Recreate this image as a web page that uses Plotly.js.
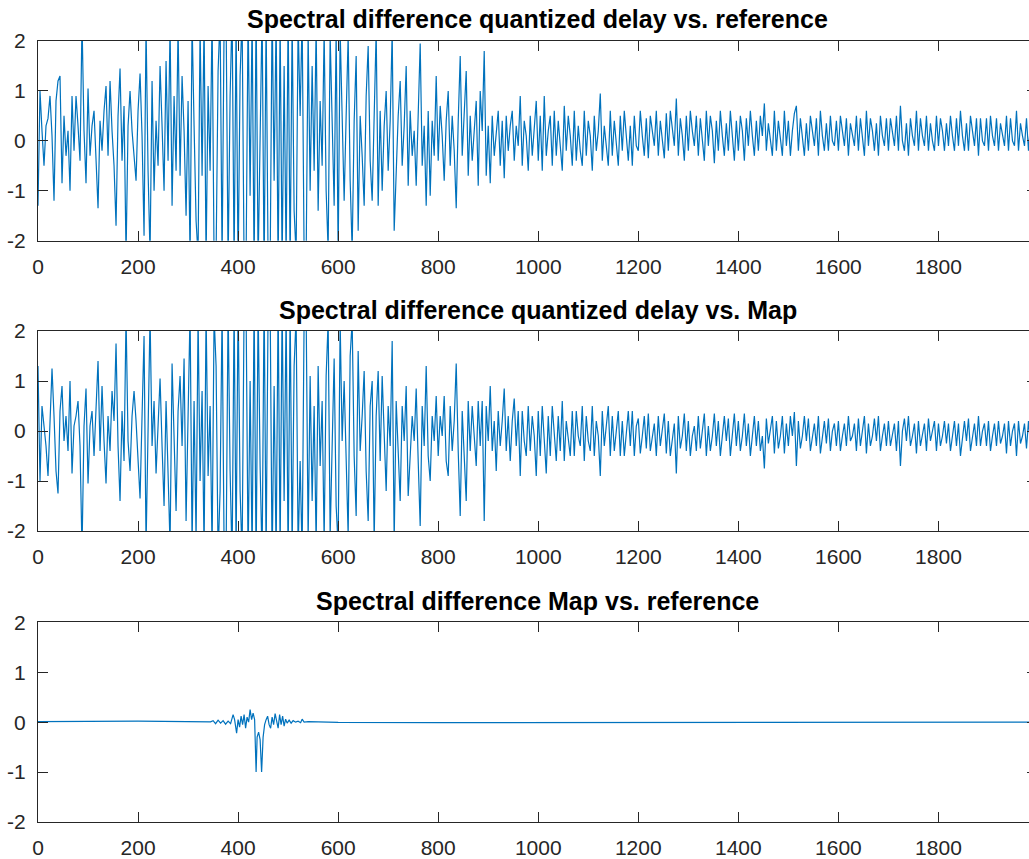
<!DOCTYPE html>
<html>
<head>
<meta charset="utf-8">
<script src="https://cdn.plot.ly/plotly-3.0.1.min.js"></script>
<style>
html,body{margin:0;padding:0;overflow:hidden;background:#fff;}
#chart{width:1040px;height:859px;}
</style>
</head>
<body>
<div id="chart"></div>
<script>
// Sample spacing (bins) of the read-off series for the top and middle panels
const STEP = 4;

// Panel titles
const titles = [
  "Spectral difference quantized delay vs. reference",
  "Spectral difference quantized delay vs. Map",
  "Spectral difference Map vs. reference"
];

// x tick labels / y tick labels
const xTicks = [0, 200, 400, 600, 800, 1000, 1200, 1400, 1600, 1800];
const yTicks = [-2, -1, 0, 1, 2];

// Top panel: quantized delay vs. reference (bins 0..2000 every 4)
const diffQuantRef = [
  -1.3,1.0,0.2,-0.5,0.3,0.45,0.9,0.1,-1.2,0.8,1.2,1.3,-0.85,0.5,-0.3,0.2,-1.0,0.9,-0.2,0.9,
  0.3,-0.4,2.4,0.2,-0.85,1.05,-0.3,0.3,0.6,-0.5,-1.35,0.4,-0.2,0.6,1.1,-0.3,1.2,0.2,-0.5,-1.7,
  0.5,1.45,-0.4,0.7,-2.3,0.3,1.0,0.2,-0.3,-0.8,0.6,1.35,0.1,-1.9,2.3,-0.6,-2.3,1.2,-1.0,0.4,
  -0.5,1.5,0.3,-1.0,1.6,-0.4,2.3,-1.3,0.9,-0.6,2.3,-0.7,1.3,0.2,-1.5,0.8,-2.4,2.4,0.3,-1.6,
  -2.3,2.3,-0.7,2.4,-2.4,1.1,-0.6,2.5,-2.4,-2.3,1.4,2.5,-2.4,2.3,2.5,-2.5,0.9,2.6,-2.5,2.4,
  -2.6,1.3,2.5,-2.5,-2.4,2.6,-1.1,2.5,-2.6,2.7,-2.5,0.6,2.6,-2.7,2.5,-2.5,-2.6,2.7,-0.8,2.5,
  -2.6,2.4,-2.5,1.5,-2.4,2.6,-2.5,2.4,-1.4,-2.3,2.4,0.5,2.5,-2.3,-2.4,2.2,-1.0,1.5,-0.6,2.3,
  -1.4,0.8,-0.5,2.2,-1.0,-2.2,2.1,0.4,-1.3,2.2,-2.3,2.2,0.3,-1.2,0.5,2.1,-0.8,-2.2,0.4,1.7,
  -1.8,0.5,-0.3,-1.3,0.9,1.9,-0.4,-1.2,0.5,2.2,-1.3,0.6,-1.0,0.3,1.0,-0.6,0.4,2.2,-1.8,-0.4,
  0.5,1.2,-0.5,0.3,1.5,-0.9,0.6,-0.3,0.2,-0.9,0.7,1.95,-0.5,0.3,-1.3,0.6,-1.1,0.4,-0.3,1.3,
  -0.4,0.7,0.1,-0.8,0.4,1.0,-0.5,0.5,-0.2,-1.35,0.4,1.7,-0.3,0.6,1.4,-0.7,0.5,-0.4,0.2,0.8,
  -0.9,1.0,0.2,1.8,-0.7,0.3,-0.85,0.5,-0.3,0.2,0.6,-0.5,0.4,-0.75,0.5,-0.2,0.3,0.6,-0.4,0.3,
  -0.1,0.9,-0.5,0.4,0.1,-0.6,0.5,-0.3,0.2,0.8,-0.4,0.5,-0.6,0.9,-0.3,0.2,0.5,-0.5,0.6,-0.3,
  0.4,-0.1,-0.6,0.7,-0.2,0.5,0.1,-0.5,0.6,-0.4,0.3,-0.2,-0.5,0.6,-0.3,0.4,0.1,-0.6,0.5,-0.2,
  0.2,0.95,-0.4,0.3,-0.1,-0.5,0.6,-0.3,0.4,0.0,-0.5,0.5,-0.2,0.6,0.1,-0.4,0.3,-0.5,0.5,-0.1,
  -0.2,0.6,0.1,-0.3,0.45,-0.35,0.5,0.2,-0.1,0.6,-0.3,0.4,0.0,-0.35,0.55,-0.2,0.6,0.2,-0.1,0.85,
  -0.3,0.45,0.1,-0.4,0.5,-0.2,0.6,0.2,-0.1,0.5,-0.3,0.45,0.0,-0.4,0.6,-0.1,0.5,0.2,-0.45,0.4,
  -0.2,0.6,0.1,-0.3,0.35,-0.2,0.6,0.0,-0.4,0.4,-0.2,0.5,0.2,-0.4,0.45,-0.1,0.6,0.1,-0.3,0.4,
  -0.2,0.5,0.1,0.75,-0.2,0.35,0.0,-0.3,0.6,-0.2,0.4,0.1,-0.3,0.6,-0.1,0.4,-0.3,0.2,0.55,0.7,
  -0.2,0.45,0.1,-0.3,0.35,-0.2,0.5,0.2,-0.1,0.45,-0.3,0.6,0.1,-0.2,0.35,-0.2,0.5,0.0,-0.1,0.4,
  -0.2,0.5,0.2,-0.1,0.45,-0.3,0.35,0.1,-0.1,0.5,-0.2,0.45,0.0,-0.3,0.6,-0.1,0.45,0.2,-0.2,0.35,
  -0.3,0.5,0.1,-0.1,0.45,-0.2,0.45,0.2,-0.1,0.5,-0.2,0.7,0.0,-0.2,0.35,-0.3,0.45,0.1,-0.1,0.6,
  -0.2,0.45,0.1,-0.1,0.5,-0.2,0.35,0.0,-0.2,0.5,-0.1,0.45,0.2,-0.2,0.35,-0.1,0.5,0.1,-0.2,0.45,
  -0.1,0.6,0.1,-0.2,0.35,-0.2,0.5,0.2,-0.1,0.45,-0.3,0.45,0.0,-0.1,0.45,-0.2,0.5,0.1,-0.1,0.45,
  -0.2,0.35,0.1,-0.1,0.5,-0.2,0.45,0.0,-0.1,0.6,-0.2,0.35,0.1,-0.1,0.45,-0.2,0.35,0.0,-0.1,0.4,
  0.1
];

// Middle panel: quantized delay vs. Map (bins 0..2000 every 4)
const diffQuantMap = [
  1.3,-1.0,0.5,0.1,-0.3,-0.9,0.2,1.25,0.3,-0.8,-1.25,0.4,0.9,-0.2,0.3,-0.4,1.0,-0.85,0.1,0.3,
  0.6,-0.3,-2.4,0.1,0.85,-1.05,0.1,0.4,-0.5,0.3,1.4,-0.4,0.9,-0.2,-1.05,0.3,-0.4,0.8,0.2,1.75,
  -0.3,-1.4,0.4,-0.6,2.3,-0.2,-0.8,0.3,0.8,0.2,-0.6,-1.35,0.3,1.9,-2.3,0.5,2.3,-0.3,0.6,-0.85,
  0.2,1.05,-0.3,-1.5,0.6,-0.9,-2.3,1.35,-0.4,-1.6,0.4,1.1,-0.3,1.45,-1.8,0.5,2.4,-2.3,0.6,-2.2,
  2.3,-1.0,0.8,-2.4,2.4,-0.9,0.5,-2.4,2.3,1.3,-2.5,-1.2,2.4,-2.3,-2.5,2.5,-0.8,-2.6,2.5,-2.4,
  2.6,-1.2,-2.5,2.5,2.4,-2.6,1.0,-2.5,2.6,-2.7,2.5,-0.7,-2.6,2.7,-2.5,2.5,2.6,-2.7,0.9,-2.5,
  2.6,-2.4,2.5,-1.4,2.4,-2.6,2.5,-2.4,1.3,2.3,-2.4,-0.6,-2.5,2.3,2.4,-2.2,1.1,-1.4,0.5,-2.3,
  1.3,-0.7,0.6,-2.2,1.1,2.2,-2.1,-0.3,1.45,-1.5,-2.3,2.2,-0.2,1.0,-0.4,-2.1,1.5,2.2,-0.5,-1.7,
  1.6,-0.4,0.3,1.2,-0.8,-1.8,0.5,1.0,-2.2,0.3,1.2,-0.6,1.1,-0.3,-1.2,0.5,-0.3,1.8,-2.2,0.6,
  -0.4,-1.4,0.5,-0.2,0.9,-1.3,-0.5,0.3,-0.2,0.85,-0.6,-1.9,0.5,-0.3,1.3,-0.5,-1.0,0.3,-0.2,0.7,
  -0.5,0.3,-0.1,0.7,-0.6,-0.9,0.5,-0.4,0.2,1.35,-0.4,-1.7,0.4,-0.6,-1.4,0.6,-0.4,0.5,-0.2,-0.7,
  0.6,-0.3,0.6,-1.8,0.5,-0.2,0.9,-0.4,0.2,-0.8,0.4,-0.3,0.2,0.85,-0.4,0.3,-0.6,0.2,0.65,-0.3,
  0.4,-0.9,0.4,-0.2,-0.5,0.5,-0.4,0.3,-0.1,-0.9,0.4,-0.5,0.5,-0.2,-0.85,0.3,-0.5,0.5,-0.1,-0.6,
  0.3,-0.4,0.6,-0.6,0.2,-0.1,-0.5,0.4,-0.5,0.4,-0.1,-0.3,0.5,-0.6,0.3,-0.2,-0.4,0.5,-0.5,0.2,
  -0.1,-0.9,0.4,-0.3,0.1,0.5,-0.5,0.3,-0.4,0.0,0.4,-0.5,0.2,-0.5,-0.1,0.4,-0.3,0.4,-0.5,0.1,
  0.25,-0.45,-0.1,0.3,-0.35,0.35,-0.4,-0.1,0.15,-0.5,0.3,-0.3,0.0,0.35,-0.45,0.2,-0.5,-0.1,0.15,-0.85,
  0.3,-0.35,-0.1,0.35,-0.4,0.2,-0.5,-0.1,0.1,-0.4,0.3,-0.35,0.0,0.35,-0.5,0.1,-0.4,-0.1,0.35,-0.3,
  0.2,-0.5,-0.1,0.3,-0.2,0.25,-0.5,0.0,0.35,-0.3,0.2,-0.4,-0.1,0.35,-0.3,0.15,-0.5,-0.1,0.3,-0.3,
  0.2,-0.4,-0.1,-0.75,0.25,-0.25,0.0,0.3,-0.45,0.2,-0.35,-0.1,0.3,-0.45,0.15,-0.3,0.3,-0.1,0.38,-0.7,
  0.2,-0.35,-0.1,0.3,-0.2,0.25,-0.4,-0.1,0.15,-0.3,0.3,-0.45,-0.1,0.2,-0.25,0.25,-0.4,0.0,0.15,-0.3,
  0.2,-0.4,-0.1,0.15,-0.3,0.3,-0.2,-0.1,0.15,-0.4,0.25,-0.3,0.0,0.3,-0.45,0.15,-0.3,-0.1,0.25,-0.2,
  0.3,-0.4,-0.1,0.15,-0.3,0.2,-0.3,-0.1,0.15,-0.4,0.2,-0.7,0.0,0.25,-0.2,0.3,-0.3,-0.1,0.15,-0.45,
  0.2,-0.3,-0.1,0.15,-0.4,0.25,-0.2,0.0,0.2,-0.4,0.15,-0.3,-0.1,0.2,-0.25,0.15,-0.4,-0.1,0.2,-0.3,
  0.15,-0.5,-0.1,0.2,-0.2,0.25,-0.4,-0.1,0.15,-0.3,0.3,-0.3,0.0,0.15,-0.3,0.2,-0.4,-0.1,0.15,-0.3,
  0.2,-0.25,-0.1,0.15,-0.45,0.2,-0.3,0.0,0.15,-0.5,0.2,-0.25,-0.1,0.15,-0.35,0.2,-0.25,0.0,0.15,-0.3,
  -0.1
];

// Bottom panel: Map vs. reference (irregularly read bins)
const mapBins = [
  0,50,100,150,200,250,300,345,
  350,355,360,365,370,375,380,385,390,393,397,400,403,406,409,412,415,418,421,424,427,430,433,
  436,438,441,444,447,450,453,456,459,462,465,468,471,474,477,480,483,486,489,492,495,498,
  502,506,510,515,520,525,528,532,540,560,600,800,1000,1200,1400,1600,1800,2000
];
const diffMapRef = [
  0.01,0.015,0.02,0.02,0.02,0.015,0.01,0.005,
  0.03,-0.03,0.04,-0.02,0.03,-0.04,0.02,-0.03,0.15,0.05,-0.22,0.05,-0.1,0.12,-0.05,0.15,-0.12,0.1,0.0,0.25,0.05,0.18,0.05,
  -1.0,-0.3,-0.2,-0.35,-1.0,-0.3,-0.05,0.05,0.12,-0.05,-0.12,0.1,-0.05,0.17,-0.02,-0.12,0.15,-0.05,0.12,-0.08,0.06,-0.02,
  0.04,-0.02,0.03,0.0,0.02,-0.01,0.06,0.0,0.01,0.0,-0.005,-0.01,-0.01,-0.005,-0.005,0.0,0.0,0.0
];

const binsFor = arr => arr.map((_, i) => i * STEP);

const LINE = {color: '#0072BD', width: 1.2};
const traces = [
  {x: binsFor(diffQuantRef), y: diffQuantRef, xaxis: 'x', yaxis: 'y', type: 'scatter', mode: 'lines', line: LINE, hoverinfo: 'skip'},
  {x: binsFor(diffQuantMap), y: diffQuantMap, xaxis: 'x2', yaxis: 'y2', type: 'scatter', mode: 'lines', line: LINE, hoverinfo: 'skip'},
  {x: mapBins, y: diffMapRef, xaxis: 'x3', yaxis: 'y3', type: 'scatter', mode: 'lines', line: LINE, hoverinfo: 'skip'}
];

const AX = '#262626';
const FONT = 'Liberation Sans, Arial, Helvetica, sans-serif';
function xa(anchor) {
  return {
    anchor: anchor, domain: [0, 1], range: [0, 1997],
    tickmode: 'array', tickvals: xTicks, ticktext: xTicks.map(String),
    ticks: 'inside', ticklen: 10, tickwidth: 1, tickcolor: AX,
    showline: true, linecolor: AX, linewidth: 1, mirror: 'ticks',
    showgrid: false, zeroline: false,
    tickfont: {family: FONT, size: 21, color: AX},
    ticklabelstandoff: 7
  };
}
function ya(anchor, dom) {
  return {
    anchor: anchor, domain: dom, range: [-2, 2],
    tickmode: 'array', tickvals: yTicks, ticktext: yTicks.map(String),
    ticks: 'inside', ticklen: 10, tickwidth: 1, tickcolor: AX,
    showline: true, linecolor: AX, linewidth: 1, mirror: 'ticks',
    showgrid: false, zeroline: false,
    tickfont: {family: FONT, size: 21, color: AX},
    ticklabelstandoff: 7
  };
}

const H = 859;
const doms = [
  [1 - 240.7 / H, 1 - 41 / H],
  [1 - 531 / H, 1 - 331 / H],
  [1 - 822 / H, 1 - 622.3 / H]
];
const titleY = [19, 310, 601];

const layout = {
  width: 1040, height: H,
  margin: {l: 38, r: 3, t: 0, b: 0},
  paper_bgcolor: '#ffffff', plot_bgcolor: '#ffffff',
  showlegend: false,
  font: {family: FONT, color: AX},
  xaxis: xa('y'), yaxis: ya('x', doms[0]),
  xaxis2: xa('y2'), yaxis2: ya('x2', doms[1]),
  xaxis3: xa('y3'), yaxis3: ya('x3', doms[2]),
  annotations: titles.map((t, i) => ({
    text: '<b>' + t + '</b>', xref: 'paper', yref: 'paper',
    x: 0.5, y: 1 - titleY[i] / H, xanchor: 'center', yanchor: 'middle',
    showarrow: false, font: {family: FONT, size: 25, color: '#000000'}
  }))
};

Plotly.newPlot('chart', traces, layout, {staticPlot: true, displayModeBar: false});
</script>
</body>
</html>
